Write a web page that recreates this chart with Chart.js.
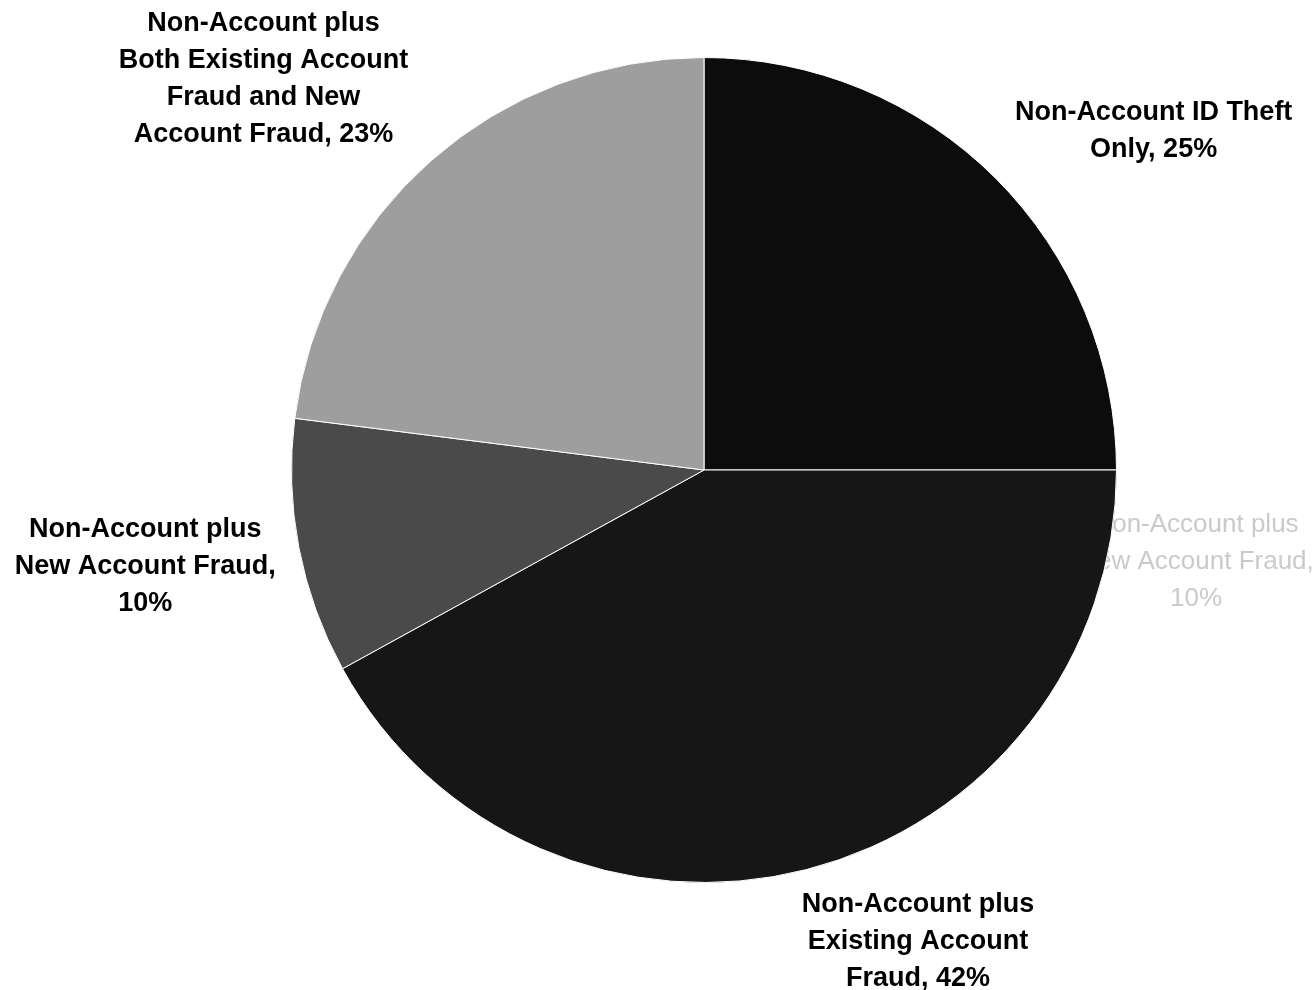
<!DOCTYPE html>
<html>
<head>
<meta charset="utf-8">
<title>Non-Account ID Theft</title>
<script src="https://cdn.jsdelivr.net/npm/chart.js@4/dist/chart.umd.min.js"></script>
<style>
  html, body { margin: 0; padding: 0; background: #fff; }
  #pie { display: block; }
</style>
</head>
<body>
<canvas id="pie" width="1312" height="990"></canvas>
<script>
// Share of victims by type of fraud
const categories = [
  'Non-Account ID Theft Only',
  'Non-Account plus Existing Account Fraud',
  'Non-Account plus New Account Fraud',
  'Non-Account plus Both Existing Account Fraud and New Account Fraud'
];
const values = [25, 42, 10, 23];
const sliceColors = ['#0c0c0c', '#161616', '#4a4a4a', '#9e9e9e'];

// How each category name wraps in its label
const labelBreaks = [
  ['Non-Account ID Theft', 'Only'],
  ['Non-Account plus', 'Existing Account', 'Fraud'],
  ['Non-Account plus', 'New Account Fraud'],
  ['Non-Account plus', 'Both Existing Account', 'Fraud and New', 'Account Fraud']
];
const percentOnOwnLine = [false, false, true, false];

// label placement: angle nudge (deg) from the slice middle, distance from centre (px)
const labelPlacement = [
  { nudge: 8, dist: 563 },
  { nudge: -10, dist: 518 },
  { nudge: 1, dist: 567 },
  { nudge: -7, dist: 589 }
];

const FONT = 'bold 27px "Liberation Sans", Arial, sans-serif';
const LINE_H = 37;

function labelLines(i) {
  const lines = labelBreaks[i].slice();
  if (percentOnOwnLine[i]) {
    lines[lines.length - 1] += ',';
    lines.push(values[i] + '%');
  } else {
    lines[lines.length - 1] += ', ' + values[i] + '%';
  }
  return lines;
}

function drawBlock(ctx, lines, x, y) {
  const top = y - (lines.length - 1) * LINE_H / 2;
  lines.forEach((t, k) => ctx.fillText(t, x, top + k * LINE_H));
}

const sliceLabels = {
  id: 'sliceLabels',
  // faint leftover copy of a label sitting behind the right edge of the pie
  beforeDatasetsDraw(chart) {
    const ctx = chart.ctx;
    const arc = chart.getDatasetMeta(0).data[0];
    ctx.save();
    ctx.font = '26px "Liberation Sans", Arial, sans-serif';
    ctx.fillStyle = '#cacaca';
    ctx.textAlign = 'center';
    ctx.textBaseline = 'middle';
    drawBlock(ctx, labelLines(2), arc.x + 492, arc.y + 92);
    ctx.restore();
  },
  afterDatasetsDraw(chart) {
    const ctx = chart.ctx;
    const meta = chart.getDatasetMeta(0);
    ctx.save();
    ctx.font = FONT;
    ctx.fillStyle = '#000';
    ctx.textAlign = 'center';
    ctx.textBaseline = 'middle';
    meta.data.forEach((arc, i) => {
      const mid = (arc.startAngle + arc.endAngle) / 2 + labelPlacement[i].nudge * Math.PI / 180;
      const x = arc.x + Math.cos(mid) * labelPlacement[i].dist;
      const y = arc.y + Math.sin(mid) * labelPlacement[i].dist;
      drawBlock(ctx, labelLines(i), x, y);
    });
    ctx.restore();
  }
};

new Chart(document.getElementById('pie'), {
  type: 'pie',
  data: {
    labels: categories,
    datasets: [{
      data: values,
      backgroundColor: sliceColors,
      borderColor: '#ffffff',
      borderWidth: 1,
      hoverOffset: 0
    }]
  },
  options: {
    responsive: false,
    animation: false,
    layout: { padding: { left: 291, right: 195, top: 57, bottom: 107 } },
    plugins: {
      legend: { display: false },
      tooltip: { enabled: false }
    }
  },
  plugins: [sliceLabels]
});
</script>
</body>
</html>
